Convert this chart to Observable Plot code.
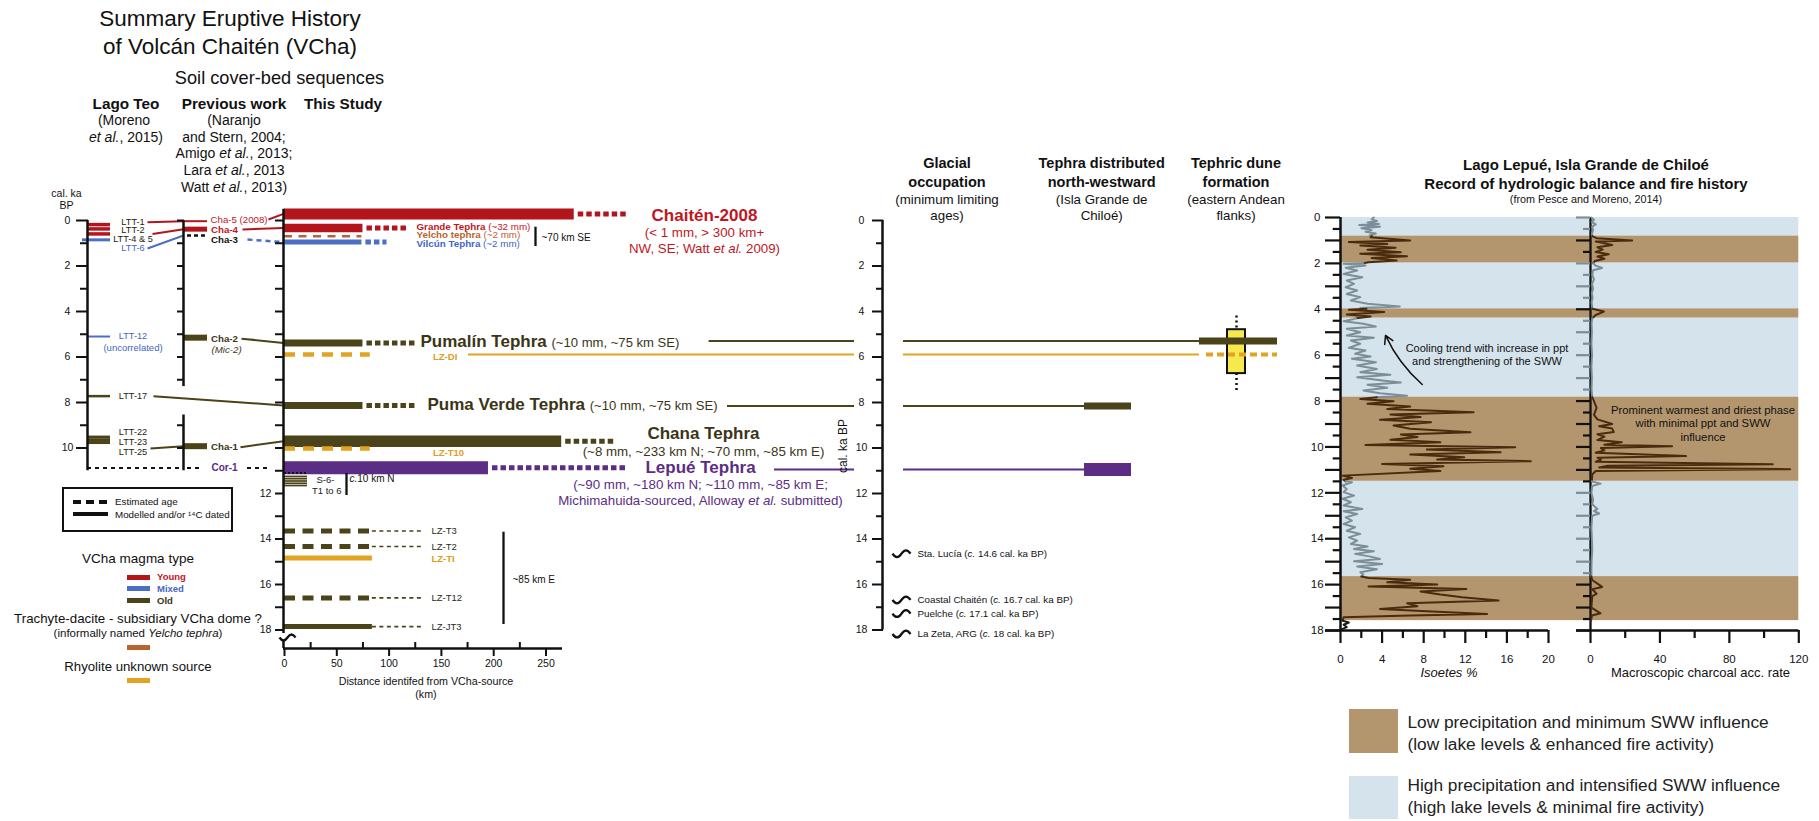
<!DOCTYPE html>
<html lang="en">
<head>
<meta charset="utf-8">
<title>Summary Eruptive History of Volcán Chaitén (VCha)</title>
<script src="https://cdn.jsdelivr.net/npm/d3@7"></script>
<script src="https://cdn.jsdelivr.net/npm/@observablehq/plot@0.6"></script>
<style>
html,body{margin:0;padding:0;background:#fff;}
#wrap{position:relative;width:1819px;height:821px;overflow:hidden;background:#fff;font-family:"Liberation Sans",Arial,Helvetica,sans-serif;color:#111;}
#wrap .t{position:absolute;white-space:nowrap;line-height:1;}
</style>
</head>
<body>
<div id="wrap"></div>
<script>
// ======================= DATA =======================
// Lago Teo (Moreno et al., 2015)
const lagoTeoNames = ["LTT-1","LTT-2","LTT-4 & 5","LTT-6","LTT-12","LTT-17","LTT-22","LTT-23","LTT-25"];
const lagoTeoAges  = [0.18, 0.37, 0.59, 0.85, 5.10, 7.72, 9.52, 9.64, 9.76];
const lagoTeoMagma = ["Young","Young","Young","Mixed","Mixed","Old","Old","Old","Old"];
const lagoTeoNotes = ["","","","","(uncorrelated)","","","",""];

// Previous work
const prevNames   = ["Cha-5 (2008)","Cha-4","Cha-3","Cha-2","Cha-1"];
const prevAges    = [0.03, 0.38, 0.66, 5.15, 9.92];
const prevMagma   = ["Young","Young","Unknown","Old","Old"];
const prevDated   = [true, true, false, true, true];
const prevAliases = ["","","","(Mic-2)",""];
const cor1Name = "Cor-1";
const cor1Age  = 10.88;

// This study
const studyNames   = ["Chaitén-2008","Grande Tephra","Yelcho tephra","Vilcún Tephra","Pumalín Tephra","LZ-DI","Puma Verde Tephra","Chana Tephra","LZ-T10","Lepué Tephra","LZ-T3","LZ-T2","LZ-TI","LZ-T12","LZ-JT3"];
const studyAges    = [-0.29, 0.33, 0.69, 0.95, 5.38, 5.89, 8.13, 9.70, 10.02, 10.87, 13.65, 14.33, 14.84, 16.59, 17.85];
const studyDistKm  = [277, 75, 74, 74, 75, 82, 75, 265, 82, 195, 84, 84, 84, 84, 84];
const studyReachKm = [328, 118, null, 98, 125, null, 126, 316, null, 326, 133, 133, null, 133, 133];
const studyMagma   = ["Young","Young","Trachyte","Mixed","Old","Rhyolite","Old","Old","Rhyolite","Lepue","Old","Old","Rhyolite","Old","Old"];
const studyDated   = [true, true, false, true, true, false, true, true, false, true, false, false, true, false, true];
const studyNotes   = ["(< 1 mm, > 300 km+\nNW, SE; Watt _et al._ 2009)","(~32 mm)","(~2 mm)","(~2 mm)","(~10 mm, ~75 km SE)","","(~10 mm, ~75 km SE)","(~8 mm, ~233 km N; ~70 mm, ~85 km E)","","(~90 mm, ~180 km N; ~110 mm, ~85 km E;\nMichimahuida-sourced, Alloway _et al._ submitted)","","","","",""];
const s6Labels  = ["S-6-","T1 to 6"];
const s6Ages    = [11.25, 11.35, 11.45, 11.55, 11.65];
const s6DistKm  = 22;
const s6TopAge  = 11.1;
const reachNotes = ["~70 km SE","c.10 km N","~85 km E"];

// Correlations between columns
const corrFrom = ["LTT-1","LTT-4 & 5","LTT-6","LTT-17","LTT-25","Cha-5 (2008)","Cha-4","Cha-3","Cha-2","Cha-1"];
const corrTo   = ["Cha-5 (2008)","Cha-4","Cha-3","Puma Verde Tephra","Cha-1","Chaitén-2008","Grande Tephra","Vilcún Tephra","Pumalín Tephra","Chana Tephra"];

// Distal records
const distalNames   = ["Pumalín Tephra","LZ-DI","Puma Verde Tephra","Lepué Tephra"];
const distalAges    = [5.30, 5.89, 8.15, 10.95];
const distalSetting = ["dune","dune","chiloe","chiloe"];
const duneAgeRange   = [4.8, 6.73];
const duneAgeWhisker = [4.2, 7.6];

// Glacial occupation (minimum limiting ages)
const glacialSites = ["Sta. Lucía","Coastal Chaitén","Puelche","La Zeta, ARG"];
const glacialAges  = [14.6, 16.7, 17.1, 18];

// Tick labels
const distanceTicks = [0, 50, 100, 150, 200, 250];
const kaTickLabels  = [0, 2, 4, 6, 8, 10, 12, 14, 16, 18];
const isoetesTicks  = [0, 4, 8, 12, 16, 20];
const charcoalTicks = [0, 40, 80, 120];

// Lago Lepué (Pesce and Moreno, 2014)
const bandStart  = [0, 0.81, 1.99, 3.98, 4.39, 7.83, 11.5, 15.65];
const bandEnd    = [0.81, 1.99, 3.98, 4.39, 7.83, 11.5, 15.65, 17.57];
const bandRegime = ["high","low","high","low","high","low","high","low"];

const isoetesAge = [0,0.08,0.15,0.22,0.28,0.33,0.40,0.47,0.55,0.62,0.70,0.78,0.81,
 0.86,1.0,1.07,1.15,1.22,1.32,1.41,1.51,1.58,1.69,1.77,1.87,1.95,1.99,
 2.02,2.09,2.19,2.31,2.46,2.6,2.75,2.89,3.04,3.18,3.33,3.47,3.62,3.76,3.88,3.94,3.98,
 4.02,4.12,4.23,4.31,4.39,
 4.42,4.52,4.63,4.75,4.85,5.0,5.14,5.24,5.36,5.5,5.68,5.8,5.94,6.06,6.16,6.31,6.45,6.6,6.74,6.85,6.96,7.11,7.19,7.29,7.42,7.54,7.66,7.77,7.83,
 7.91,8.01,8.12,8.24,8.35,8.49,8.59,8.7,8.82,8.92,9.07,9.21,9.36,9.46,9.57,9.69,9.79,9.91,10.01,10.11,10.23,10.33,10.45,10.55,10.62,10.74,10.84,10.95,11.05,11.25,11.35,11.43,11.5,
 11.54,11.68,11.83,11.97,12.12,12.26,12.41,12.55,12.7,12.8,12.92,13.07,13.21,13.36,13.5,13.65,13.79,13.94,14.08,14.23,14.34,14.45,14.55,14.66,14.78,14.88,14.98,15.1,15.21,15.33,15.46,15.56,15.65,
 15.71,15.79,15.9,16.0,16.08,16.19,16.3,16.43,16.55,16.69,16.81,16.94,17.06,17.16,17.28,17.35,17.42,17.57,
 17.65,17.75,17.85,17.95];
const isoetesPct = [3.2,3.0,3.5,2.6,3.7,1.8,3.8,2.0,3.0,2.4,3.4,2.8,3.0,
 2.9,6.7,0.8,4.5,1.9,5.3,2.6,5.8,1.9,6.4,3.0,5.4,2.7,2.2,
 0.3,2.4,0.5,1.6,0.3,2.1,0.6,1.3,0.5,1.6,0.6,1.9,1.0,2.6,5.7,1.9,2.5,
 0.8,4.2,0.6,2.9,1.5,
 1.3,0.3,2.2,3.4,0.6,1.9,0.6,3.2,1.0,1.9,0.8,2.4,1.4,2.9,1.1,3.4,1.6,3.5,1.9,4.8,1.6,4.2,5.8,2.6,4.5,2.2,3.8,6.4,3.5,
 1.9,5.1,2.6,6.7,4.5,12.8,4.8,7.7,3.8,8.7,5.1,6.7,12.5,5.8,7.4,4.8,9.6,2.4,16.8,8.3,15.4,6.7,11.9,9.3,18.3,4.0,9.9,6.7,9.6,0.2,1.1,0.3,0.5,
 1.1,0.2,0.6,0.3,1.3,0.2,1.0,0.3,2.1,0.3,1.6,0.5,1.1,0.3,1.4,0.6,1.9,0.8,1.6,1.0,2.6,1.3,3.2,1.4,2.9,3.8,1.3,4.0,1.6,3.5,1.9,2.2,2.0,
 2.7,6.7,4.5,9.3,2.7,12.1,7.7,9.6,11.7,15.2,6.4,7.4,3.8,8.3,14.1,6.7,0.3,0.2,
 0.8,0.3,0.6,0.1];

const charcoalAge = [0,0.1,0.2,0.3,0.4,0.55,0.7,0.81,0.9,1.0,1.05,1.12,1.2,1.3,1.4,1.5,1.6,1.7,1.8,1.9,1.99,2.1,2.2,2.3,2.5,2.7,2.9,3.1,3.3,3.5,3.7,3.9,3.98,4.1,4.25,4.39,4.6,5.0,5.5,6.0,6.5,7.0,7.5,7.83,8.0,8.3,8.6,8.8,9.0,9.1,9.2,9.35,9.45,9.55,9.7,9.8,9.9,9.97,10.05,10.15,10.25,10.4,10.47,10.55,10.65,10.75,10.82,10.9,10.97,11.05,11.2,11.5,11.6,11.7,12.0,12.3,12.5,12.7,12.8,12.9,13.0,13.5,14.0,14.5,15.0,15.65,15.8,16.1,16.2,16.4,16.5,17.0,17.25,17.35,17.57];
const charcoalRate = [0.5,2.0,0.8,3.0,1.0,1.5,0.8,1.0,3.5,24.0,3.0,8.0,12.5,4.0,7.0,3.0,10.5,4.0,8.0,2.5,1.5,3.0,6.7,1.5,1.0,2.0,0.8,1.5,0.7,1.2,0.6,1.0,1.0,7.7,3.0,1.0,0.6,0.8,0.5,0.9,0.5,0.8,0.6,1.0,2.0,3.5,2.0,4.0,12.5,5.0,12.5,13.4,4.0,8.0,4.0,18.0,8.0,47.0,6.0,8.0,3.0,55.0,4.0,6.0,3.0,105.0,10.0,5.0,115.0,3.0,1.0,0.8,5.8,1.0,0.5,1.5,1.0,4.0,2.0,5.0,1.0,0.5,0.8,1.0,0.6,0.5,1.0,6.7,1.0,3.5,1.0,0.5,5.8,0.8,0.3];

// ======================= STYLE / LAYOUT =======================
const COLOR = {Young:"#b3151d", Mixed:"#4c6ec4", Old:"#4b4319", Trachyte:"#b8642e", Rhyolite:"#e2a322", Lepue:"#5b2d85", Unknown:"#111111"};
const TEXTC = {Young:"#c0171f", Mixed:"#4466c2", Old:"#3b3516", Trachyte:"#b8642e", Rhyolite:"#df9d1a", Lepue:"#5b2d85", Unknown:"#111111"};
const BANDC = {low:"#b4966e", high:"#d5e3ec"};
const CURVEC = {low:"#4a2b0d", high:"#7c8f98", none:"#1a1a1a"};
const FONT = '"Liberation Sans", Arial, Helvetica, sans-serif';
const wrap = document.getElementById("wrap");
const svgNS = "http://www.w3.org/2000/svg";

// wavy symbol (glacial limit / axis break), d3-symbol-type interface
const waveSymbol = {
  draw(context, size) {
    const s = Math.sqrt(size / Math.PI);
    context.moveTo(-2 * s, 0);
    context.quadraticCurveTo(-1 * s, 1.5 * s, 0, 0);
    context.quadraticCurveTo(1 * s, -1.5 * s, 2 * s, 0);
  }
};

function htxt(html, x, y, o = {}) {
  const d = document.createElement("div");
  d.className = "t";
  d.innerHTML = html;
  d.style.left = x + "px"; d.style.top = y + "px";
  d.style.fontSize = (o.size || 13) + "px";
  if (o.bold) d.style.fontWeight = "bold";
  if (o.italic) d.style.fontStyle = "italic";
  if (o.color) d.style.color = o.color;
  const ax = o.anchor === "start" ? "0" : o.anchor === "end" ? "-100%" : "-50%";
  d.style.transform = `translate(${ax},-50%)` + (o.rotate ? ` rotate(${o.rotate}deg)` : "");
  wrap.appendChild(d);
}
function swatch(x, y, w, h, color) {
  const d = document.createElement("div");
  Object.assign(d.style, {position:"absolute", left:x+"px", top:(y-h/2)+"px", width:w+"px", height:h+"px", background:color});
  wrap.appendChild(d);
}
function richify(root) {
  root.querySelectorAll("text").forEach(t => {
    const spans = t.querySelectorAll("tspan");
    const els = spans.length ? Array.from(spans) : [t];
    els.forEach(el => {
      const s = el.textContent;
      if (!/[*_{]/.test(s)) return;
      while (el.firstChild) el.removeChild(el.firstChild);
      s.split(/(\*[^*]*\*|_[^_]*_|\{[^}]*\})/).forEach(p => {
        if (!p) return;
        const ts = document.createElementNS(svgNS, "tspan");
        let txt = p;
        if (p.length > 1 && p[0] === "*" && p[p.length-1] === "*") { ts.setAttribute("font-weight","bold"); txt = p.slice(1,-1); }
        else if (p.length > 1 && p[0] === "_" && p[p.length-1] === "_") { ts.setAttribute("font-style","italic"); txt = p.slice(1,-1); }
        else if (p[0] === "{") { ts.setAttribute("font-weight","normal"); ts.setAttribute("font-size","0.77em"); txt = p.slice(1,-1); }
        ts.textContent = txt;
        el.appendChild(ts);
      });
    });
  });
}
function addPlot(svg, left) {
  svg.style.position = "absolute"; svg.style.left = left + "px"; svg.style.top = "0px";
  richify(svg);
  wrap.appendChild(svg);
}
function regimeAt(ka) {
  for (let i = 0; i < bandStart.length; i++) if (ka >= bandStart[i] && ka <= bandEnd[i]) return bandRegime[i];
  return "none";
}
function colouredRuns(ages, vals) {
  const out = []; let run = 0, prev = null;
  for (let i = 0; i < ages.length - 1; i++) {
    const reg = regimeAt((ages[i] + ages[i+1]) / 2);
    if (reg !== prev) { run++; prev = reg; out.push({ka: ages[i], v: vals[i], run, color: CURVEC[reg]}); }
    out.push({ka: ages[i+1], v: vals[i+1], run, color: CURVEC[reg]});
  }
  return out;
}

// ---------- Panel A geometry (pixels) ----------
const A = {width: 1300, height: 821, x0: 284, x250: 545.5, yTop: 220, yBottom: 648};
const KA_PX = 22.75;
const A_KAMAX = (A.yBottom - A.yTop) / KA_PX;
const kmOf = px => (px - A.x0) * 250 / (A.x250 - A.x0);
const kaOf = py => (py - A.yTop) / KA_PX;

// rows
const lago  = lagoTeoNames.map((name,i) => ({name, ka: lagoTeoAges[i], magma: lagoTeoMagma[i], note: lagoTeoNotes[i]}));
const prev  = prevNames.map((name,i) => ({name, ka: prevAges[i], magma: prevMagma[i], dated: prevDated[i], alias: prevAliases[i]}));
const study = studyNames.map((name,i) => ({name, ka: studyAges[i], dist: studyDistKm[i], reach: studyReachKm[i], magma: studyMagma[i], dated: studyDated[i], note: studyNotes[i]}));
const byName = new Map([...lago, ...prev, ...study].map(d => [d.name, d]));

const lagoStyle = {"LTT-1":{w:3.5,dy:-2.4,end:147}, "LTT-2":{w:3.5,dy:1.6}, "LTT-4 & 5":{w:3.5,dy:5.6,end:152,linkDy:0}, "LTT-6":{w:3,dy:8.7,x1:82,end:147},
  "LTT-12":{w:2,dy:0}, "LTT-17":{w:2.5,dy:0,end:153}, "LTT-22":{w:3,dy:-5.3}, "LTT-23":{w:3,dy:2.4}, "LTT-25":{w:3,dy:10,end:150,linkDy:6}};
const prevStyle = {"Cha-5 (2008)":{w:2,dy:-1.7,bold:false,end:268}, "Cha-4":{w:5,dy:0.3,bold:true,end:242}, "Cha-3":{w:2.5,dy:4,bold:true,end:247},
  "Cha-2":{w:6,dy:1,bold:true,end:241}, "Cha-1":{w:6,dy:1,bold:true,end:240}};
const barW = {"Chaitén-2008":11, "Grande Tephra":8.5, "Yelcho tephra":2.5, "Vilcún Tephra":5, "Pumalín Tephra":7, "LZ-DI":4.5, "Puma Verde Tephra":7,
  "Chana Tephra":11.5, "LZ-T10":4.5, "Lepué Tephra":13, "LZ-T3":5, "LZ-T2":5, "LZ-TI":5, "LZ-T12":5, "LZ-JT3":5};
const dashOf = {"Yelcho tephra":"8,6.5", "LZ-DI":"11,8", "LZ-T10":"11,8", "LZ-T3":"11,7.5", "LZ-T2":"11,7.5", "LZ-T12":"11,7.5"};
const studyLabel = {
  "Chaitén-2008":{kind:"big",px:704,py:215}, "Chana Tephra":{kind:"big",px:703,py:433.3}, "Lepué Tephra":{kind:"big",px:700,py:466.7},
  "Pumalín Tephra":{kind:"inline",px:420,py:341}, "Puma Verde Tephra":{kind:"inline",px:427,py:404.5},
  "Grande Tephra":{kind:"small",px:416,py:226}, "Yelcho tephra":{kind:"small",px:416,py:234.5}, "Vilcún Tephra":{kind:"small",px:416,py:243.3},
  "LZ-DI":{kind:"lz",px:432.5,py:356}, "LZ-T10":{kind:"lz",px:432.5,py:452}, "LZ-T3":{kind:"lz",px:431,py:530.7}, "LZ-T2":{kind:"lz",px:431,py:546},
  "LZ-TI":{kind:"lz",px:431,py:558}, "LZ-T12":{kind:"lz",px:431,py:597.3}, "LZ-JT3":{kind:"lz",px:431,py:626}};
const glacialDy = {"Sta. Lucía":1, "Coastal Chaitén":-0.5, "Puelche":4, "La Zeta, ARG":4};

const mA = [];

// ---- distal continuation lines (behind everything) ----
const distal = distalNames.map((name,i) => ({name, ka: distalAges[i], setting: distalSetting[i], magma: byName.get(name).magma, dated: byName.get(name).dated}));
const distalStart = {"Pumalín Tephra":708.6, "LZ-DI":468, "Puma Verde Tephra":727, "Lepué Tephra":774};
const AXIS_GAP = [854, 903];
const COLUMN_SPAN = {dune:[1199,1277], chiloe:[1084,1131]};
const distalBarW = {"Pumalín Tephra":7, "LZ-DI":4, "Puma Verde Tephra":7, "Lepué Tephra":13};
const distalSegs = distal.flatMap(d => [
  {...d, a: kmOf(distalStart[d.name]), b: kmOf(AXIS_GAP[0])},
  {...d, a: kmOf(AXIS_GAP[1]), b: kmOf(COLUMN_SPAN[d.setting][0])}
]);
mA.push(Plot.ruleY(distalSegs, {y:"ka", x1:"a", x2:"b", stroke: d => COLOR[d.magma], strokeWidth: 2}));
mA.push(Plot.rect([duneAgeRange], {x1: kmOf(1227), x2: kmOf(1245), y1: d => d[0], y2: d => d[1], fill:"#f6e94e", stroke:"#111", strokeWidth: 2}));
mA.push(Plot.ruleX([[duneAgeWhisker[0], duneAgeRange[0]], [duneAgeRange[1], duneAgeWhisker[1]]], {x: kmOf(1236), y1: d => d[0], y2: d => d[1], stroke:"#111", strokeWidth: 2.5, strokeDasharray:"2,3"}));
mA.push(Plot.ruleY(distal.filter(d => d.dated), {y:"ka", x1: d => kmOf(COLUMN_SPAN[d.setting][0]), x2: d => kmOf(COLUMN_SPAN[d.setting][1]), stroke: d => COLOR[d.magma], strokeWidth: d => distalBarW[d.name]}));
mA.push(Plot.ruleY(distal.filter(d => !d.dated), {y:"ka", x1: d => kmOf(COLUMN_SPAN[d.setting][0] + 7), x2: d => kmOf(COLUMN_SPAN[d.setting][1]), stroke: d => COLOR[d.magma], strokeWidth: d => distalBarW[d.name], strokeDasharray:"7,4"}));

// ---- Lago Teo column ----
mA.push(Plot.ruleY(lago, {y:"ka", x1: d => kmOf(lagoStyle[d.name].x1 ?? 88), x2: kmOf(110), stroke: d => COLOR[d.magma], strokeWidth: d => lagoStyle[d.name].w}));
mA.push(Plot.text(lago, {x: kmOf(132.5), y: d => d.ka + lagoStyle[d.name].dy / KA_PX, text: "name", fontSize: 9.2, fill: d => d.magma === "Mixed" ? TEXTC.Mixed : "#1d1b10"}));
mA.push(Plot.text(lago.filter(d => d.note), {x: kmOf(132.5), y: d => d.ka + 11.7 / KA_PX, text: "note", fontSize: 9.5, fill: TEXTC.Mixed}));

// ---- Previous work column ----
mA.push(Plot.ruleY(prev.filter(d => d.dated), {y:"ka", x1: kmOf(183), x2: kmOf(207), stroke: d => COLOR[d.magma], strokeWidth: d => prevStyle[d.name].w}));
mA.push(Plot.ruleY(prev.filter(d => !d.dated), {y:"ka", x1: kmOf(187), x2: kmOf(207), stroke: d => COLOR[d.magma], strokeWidth: d => prevStyle[d.name].w, strokeDasharray:"4,3"}));
mA.push(Plot.text(prev.filter(d => !prevStyle[d.name].bold), {x: kmOf(210), y: d => d.ka + prevStyle[d.name].dy / KA_PX, text:"name", textAnchor:"start", fontSize: 9.7, fill: d => TEXTC[d.magma]}));
mA.push(Plot.text(prev.filter(d => prevStyle[d.name].bold), {x: kmOf(210.5), y: d => d.ka + prevStyle[d.name].dy / KA_PX, text:"name", textAnchor:"start", fontSize: 9.7, fontWeight:"bold", fill: d => TEXTC[d.magma]}));
mA.push(Plot.text(prev.filter(d => d.alias), {x: kmOf(211), y: d => d.ka + 12.5 / KA_PX, text:"alias", textAnchor:"start", fontSize: 9.7, fontStyle:"italic", fill: d => TEXTC[d.magma]}));

// Cor-1 (estimated age)
mA.push(Plot.ruleY([[87,180],[187,203],[247,268]], {y: cor1Age, x1: d => kmOf(d[0]), x2: d => kmOf(d[1]), stroke:"#111", strokeWidth: 2, strokeDasharray:"4,4"}));
mA.push(Plot.text([cor1Name], {x: kmOf(211), y: cor1Age, text: d => d, textAnchor:"start", fontSize: 10, fontWeight:"bold", fill: TEXTC.Lepue}));

// ---- correlation links ----
const links = corrFrom.map((f,i) => {
  const a = byName.get(f), b = byName.get(corrTo[i]);
  const fs = lagoStyle[f] || prevStyle[f];
  const toPx = prevNames.includes(corrTo[i]) ? 183 : 283;
  const dy = fs.linkDy ?? fs.dy;
  const magma = a.magma === "Unknown" ? b.magma : a.magma;
  return {x1: kmOf(fs.end), y1: a.ka + dy / KA_PX, x2: kmOf(toPx), y2: b.ka, color: COLOR[magma], dashed: a.dated === false};
});
mA.push(Plot.link(links.filter(d => !d.dashed), {x1:"x1", y1:"y1", x2:"x2", y2:"y2", stroke:"color", strokeWidth: 2}));
mA.push(Plot.link(links.filter(d => d.dashed), {x1:"x1", y1:"y1", x2:"x2", y2:"y2", stroke:"color", strokeWidth: 2.5, strokeDasharray:"5,4"}));

// ---- This study bars ----
mA.push(Plot.ruleY(study.filter(d => d.dated), {y:"ka", x1: 0, x2:"dist", stroke: d => COLOR[d.magma], strokeWidth: d => barW[d.name]}));
[...new Set(Object.values(dashOf))].forEach(dash => {
  mA.push(Plot.ruleY(study.filter(d => !d.dated && dashOf[d.name] === dash), {y:"ka", x1: 0, x2:"dist", stroke: d => COLOR[d.magma], strokeWidth: d => barW[d.name], strokeDasharray: dash}));
});
const ext = study.filter(d => d.reach != null);
mA.push(Plot.ruleY(ext.filter(d => !d.name.startsWith("LZ")), {y:"ka", x1: d => d.dist + 4 * 250 / (A.x250 - A.x0), x2:"reach", stroke: d => COLOR[d.magma], strokeWidth: 5, strokeDasharray:"5.5,3"}));
mA.push(Plot.ruleY(ext.filter(d => d.name.startsWith("LZ")), {y:"ka", x1:"dist", x2:"reach", stroke: COLOR.Old, strokeWidth: 1.6, strokeDasharray:"4,3.5"}));

// S-6-T1 to 6 (c. 10 km N)
mA.push(Plot.ruleY([s6TopAge], {y: d => d, x1: 0, x2: s6DistKm - 1, stroke:"#111", strokeWidth: 2, strokeDasharray:"2,2"}));
mA.push(Plot.ruleY(s6Ages, {y: d => d, x1: 0, x2: s6DistKm, stroke: COLOR.Old, strokeWidth: 1.7}));
mA.push(Plot.text([s6Labels[0]], {x: kmOf(316), y: kaOf(479.3), text: d => d, textAnchor:"start", fontSize: 9.5, fill:"#222"}));
mA.push(Plot.text([s6Labels[1]], {x: kmOf(311.5), y: kaOf(490.5), text: d => d, textAnchor:"start", fontSize: 9.5, fill:"#222"}));

// distance annotations
mA.push(Plot.ruleX([[kmOf(535), kaOf(226.7), kaOf(246)], [kmOf(346), kaOf(473), kaOf(495)], [kmOf(503), kaOf(531.7), kaOf(624)]],
  {x: d => d[0], y1: d => d[1], y2: d => d[2], stroke:"#111", strokeWidth: 2.3}));
mA.push(Plot.text([reachNotes[0]], {x: kmOf(541), y: kaOf(237.5), text: d => d, textAnchor:"start", fontSize: 10, fill:"#111"}));
mA.push(Plot.text(["_c._" + reachNotes[1].slice(2)], {x: kmOf(349), y: kaOf(478.5), text: d => d, textAnchor:"start", fontSize: 10, fill:"#111"}));
mA.push(Plot.text([reachNotes[2]], {x: kmOf(512), y: kaOf(579.3), text: d => d, textAnchor:"start", fontSize: 10, fill:"#111"}));

// This-study labels
study.forEach(d => {
  const L = studyLabel[d.name]; if (!L) return;
  const x = kmOf(L.px), y = kaOf(L.py);
  if (L.kind === "big") {
    mA.push(Plot.text([d.name], {x, y, text: t => t, fontSize: 17, fontWeight:"bold", fill: TEXTC[d.magma]}));
    d.note.split("\n").forEach((line,k) => mA.push(Plot.text([line], {x, y: kaOf(L.py + 17.5 + 16 * k), text: t => t, fontSize: 13.3, fill: TEXTC[d.magma]})));
  } else if (L.kind === "inline") {
    mA.push(Plot.text([`*${d.name}* {${d.note}}`], {x, y, text: t => t, textAnchor:"start", fontSize: 17, fill: TEXTC.Old}));
  } else if (L.kind === "small") {
    mA.push(Plot.text([`*${d.name}* ${d.note}`], {x, y, text: t => t, textAnchor:"start", fontSize: 9.8, fill: TEXTC[d.magma]}));
  } else {
    const rh = d.magma === "Rhyolite";
    mA.push(Plot.text([d.name], {x, y, text: t => t, textAnchor:"start", fontSize: 9.5, fontWeight: rh ? "bold" : "normal", fill: rh ? TEXTC.Rhyolite : "#2a2a22"}));
  }
});

// ---- axes of panel A ----
// Lago Teo axis
mA.push(Plot.ruleX([[0, 11]], {x: kmOf(87), y1: d => d[0], y2: d => d[1], stroke:"#111", strokeWidth: 2.5}));
mA.push(Plot.ruleY(d3.range(0, 11), {y: d => d, x1: d => kmOf(d % 2 === 0 ? 76 : 80), x2: kmOf(88), stroke:"#111", strokeWidth: 2}));
mA.push(Plot.text(kaTickLabels.filter(d => d <= 10), {x: kmOf(67), y: d => d, text: d => String(d), fontSize: 10.5, fill:"#111"}));
// Previous work axis
mA.push(Plot.ruleX([[0, 7.3], [8.55, 11]], {x: kmOf(183), y1: d => d[0], y2: d => d[1], stroke:"#111", strokeWidth: 2.5}));
mA.push(Plot.ruleY([0,1,2,3,4,5,6,7,9,10], {y: d => d, x1: kmOf(177), x2: kmOf(184), stroke:"#111", strokeWidth: 2}));
// This study axis (with break)
mA.push(Plot.ruleX([[-0.5, 18.15], [18.5, A_KAMAX]], {x: kmOf(283), y1: d => d[0], y2: d => d[1], stroke:"#111", strokeWidth: 2.5}));
mA.push(Plot.ruleY(d3.range(0, 19), {y: d => d, x1: kmOf(275), x2: kmOf(284), stroke:"#111", strokeWidth: 2}));
mA.push(Plot.text(kaTickLabels.filter(d => d >= 12), {x: kmOf(265), y: d => d, text: d => String(d), fontSize: 10.5, fill:"#111"}));
mA.push(Plot.dot([18.33], {x: kmOf(287), y: d => d, symbol: waveSymbol, r: 4, fill: "none", stroke: "#111", strokeWidth: 2.3}));
// distance axis
mA.push(Plot.ruleY([A_KAMAX], {y: d => d, x1: kmOf(283), x2: kmOf(562), stroke:"#111", strokeWidth: 2.5}));
mA.push(Plot.ruleX([25, 75, 125, 175, 225], {x: d => d, y1: A_KAMAX, y2: A_KAMAX - 6 / KA_PX, stroke:"#111", strokeWidth: 2}));
mA.push(Plot.axisX({ticks: distanceTicks, tickSize: 8, tickPadding: 3, label: null, strokeWidth: 2, fontSize: 10.5}));
// Glacial axis
mA.push(Plot.ruleX([[0, 18]], {x: kmOf(882), y1: d => d[0], y2: d => d[1], stroke:"#111", strokeWidth: 2.5}));
mA.push(Plot.ruleY(d3.range(0, 19), {y: d => d, x1: d => kmOf(d % 2 === 0 ? 872 : 876), x2: kmOf(883), stroke:"#111", strokeWidth: 2}));
mA.push(Plot.text(kaTickLabels, {x: kmOf(861), y: d => d, text: d => String(d), fontSize: 10.5, fill:"#111"}));
// Glacial limiting ages
const glacial = glacialSites.map((site,i) => ({site, ka: glacialAges[i]}));
mA.push(Plot.dot(glacial, {x: kmOf(901), y: d => d.ka + glacialDy[d.site] / KA_PX, symbol: waveSymbol, r: 4.5, fill: "none", stroke: "#111", strokeWidth: 2.3}));
mA.push(Plot.text(glacial, {x: kmOf(917), y: d => d.ka + glacialDy[d.site] / KA_PX, text: d => `${d.site} (_c._ ${d.ka} cal. ka BP)`, textAnchor:"start", fontSize: 9.8, fill:"#111"}));

const plotA = Plot.plot({
  width: A.width, height: A.height,
  marginLeft: A.x0, marginRight: A.width - A.x250, marginTop: A.yTop, marginBottom: A.height - A.yBottom,
  x: {domain: [0, 250], range: [A.x0, A.x250], axis: null},
  y: {domain: [0, A_KAMAX], range: [A.yTop, A.yBottom], axis: null},
  r: {type: "identity"},
  style: {fontFamily: FONT, fontSize: "10.5px", background: "transparent", color: "#111", overflow: "visible"},
  marks: mA
});
addPlot(plotA, 0);

// ---------- Panel B : Isoetes ----------
const bands = bandStart.map((s,i) => ({start: s, end: bandEnd[i], regime: bandRegime[i]}));
const B = {left: 1300, width: 290, x0: 1340, x20: 1548, yTop: 217, yBottom: 630};
const B_PX = (B.x20 - B.x0) / 20, B_KA = (B.yBottom - B.yTop) / 18;
const isoRuns = colouredRuns(isoetesAge, isoetesPct);
const plotB = Plot.plot({
  width: B.width, height: 821,
  marginLeft: B.x0 - B.left, marginRight: B.left + B.width - B.x20, marginTop: B.yTop, marginBottom: 821 - B.yBottom,
  x: {domain: [0, 20], range: [B.x0 - B.left, B.x20 - B.left], axis: null},
  y: {domain: [0, 18], range: [B.yTop, B.yBottom], axis: null},
  style: {fontFamily: FONT, fontSize: "11px", background: "transparent", color: "#111", overflow: "visible"},
  marks: [
    Plot.rect(bands, {x1: 0, x2: (1590 - B.x0) / B_PX, y1: "start", y2: "end", fill: d => BANDC[d.regime]}),
    Plot.line(isoRuns, {x: "v", y: "ka", z: "run", stroke: "color", strokeWidth: 2}),
    Plot.ruleX([0], {y1: 0, y2: 18, stroke: "#111", strokeWidth: 2.5}),
    Plot.ruleY(d3.range(0, 18.01, 0.5), {y: d => d, x1: d => Number.isInteger(d) ? -15 / B_PX : -7.3 / B_PX, x2: 0, stroke: "#111", strokeWidth: 2.2}),
    Plot.text(kaTickLabels, {x: -23.3 / B_PX, y: d => d, text: d => String(d), fontSize: 11.5, fill: "#111"}),
    Plot.ruleY([18], {x1: -15 / B_PX, x2: 20, stroke: "#111", strokeWidth: 2.5}),
    Plot.ruleX(d3.range(0, 21, 2), {x: d => d, y1: 18, y2: d => 18 + (isoetesTicks.includes(d) ? 13 : 8) / B_KA, stroke: "#111", strokeWidth: 2.2}),
    Plot.text(isoetesTicks, {x: d => d, y: 18 + 29 / B_KA, text: d => String(d), fontSize: 11.5, fill: "#111"}),
    Plot.arrow([0], {x1: 7.86, y1: 7.28, x2: 4.33, y2: 5.14, bend: 12, stroke: "#111", strokeWidth: 1.5, headLength: 9})
  ]
});
addPlot(plotB, B.left);

// ---------- Panel C : Charcoal ----------
const Cc = {left: 1560, width: 259, x0: 1590, x120: 1798.3};
const C_PX = (Cc.x120 - Cc.x0) / 120;
const charRuns = colouredRuns(charcoalAge, charcoalRate);
const plotC = Plot.plot({
  width: Cc.width, height: 821,
  marginLeft: Cc.x0 - Cc.left, marginRight: Cc.left + Cc.width - Cc.x120, marginTop: B.yTop, marginBottom: 821 - B.yBottom,
  x: {domain: [0, 120], range: [Cc.x0 - Cc.left, Cc.x120 - Cc.left], axis: null},
  y: {domain: [0, 18], range: [B.yTop, B.yBottom], axis: null},
  style: {fontFamily: FONT, fontSize: "11px", background: "transparent", color: "#111", overflow: "visible"},
  marks: [
    Plot.rect(bands, {x1: 0, x2: 120, y1: "start", y2: "end", fill: d => BANDC[d.regime]}),
    Plot.ruleX([0], {y1: 0, y2: 18, stroke: "#111", strokeWidth: 2.3}),
    Plot.line(charRuns, {x: "v", y: "ka", z: "run", stroke: "color", strokeWidth: 2}),
    Plot.ruleY(d3.range(0, 18.01, 0.5), {y: d => d, x1: d => Number.isInteger(d) ? -14 / C_PX : -7 / C_PX, x2: 0,
      stroke: d => regimeAt(d) === "high" ? CURVEC.high : "#111", strokeWidth: 2.2}),
    Plot.ruleY([18], {x1: -14 / C_PX, x2: 120, stroke: "#111", strokeWidth: 2.5}),
    Plot.ruleX(d3.range(0, 121, 20), {x: d => d, y1: 18, y2: d => 18 + (charcoalTicks.includes(d) ? 13 : 8) / B_KA, stroke: "#111", strokeWidth: 2.2}),
    Plot.text(charcoalTicks, {x: d => d, y: 18 + 29 / B_KA, text: d => String(d), fontSize: 11.5, fill: "#111"})
  ]
});
addPlot(plotC, Cc.left);

// ======================= HTML TEXT (titles, headers, legends) =======================
htxt("Summary Eruptive History", 230, 18.5, {size: 22.5});
htxt("of Volcán Chaitén (VCha)", 230, 46.5, {size: 22.5});
htxt("Soil cover-bed sequences", 279.5, 77.5, {size: 18.2});
htxt("Lago Teo", 126, 103.5, {size: 15.3, bold: true});
htxt("(Moreno", 124, 120, {size: 14});
htxt("<i>et al.</i>, 2015)", 126, 136.5, {size: 14});
htxt("Previous work", 234, 103.5, {size: 15.3, bold: true});
["(Naranjo", "and Stern, 2004;", "Amigo <i>et al.</i>, 2013;", "Lara <i>et al.</i>, 2013", "Watt <i>et al.</i>, 2013)"].forEach((s,i) => htxt(s, 234, 120 + i * 16.7, {size: 14}));
htxt("This Study", 343, 103.5, {size: 15.3, bold: true});
htxt("cal. ka", 66.5, 193, {size: 10.5});
htxt("BP", 66.5, 204.5, {size: 10.5});
htxt("Distance identifed from VCha-source", 426, 681, {size: 10.7});
htxt("(km)", 426, 693.5, {size: 10.7});

// dating legend box
(function () {
  const box = document.createElement("div");
  Object.assign(box.style, {position:"absolute", left:"62px", top:"487px", width:"171px", height:"45px", border:"2px solid #111", boxSizing:"border-box"});
  wrap.appendChild(box);
  const s = d3.create("svg").attr("width", 50).attr("height", 30).style("position","absolute").style("left","70px").style("top","495px");
  s.append("line").attr("x1",3).attr("x2",38).attr("y1",7).attr("y2",7).attr("stroke","#111").attr("stroke-width",4).attr("stroke-dasharray","8,5");
  s.append("line").attr("x1",3).attr("x2",38).attr("y1",19).attr("y2",19).attr("stroke","#111").attr("stroke-width",4);
  wrap.appendChild(s.node());
  htxt("Estimated age", 115, 502, {size: 9.8, anchor: "start"});
  htxt("Modelled and/or ¹⁴C dated", 115, 514.5, {size: 9.8, anchor: "start"});
})();

// magma legend
htxt("VCha magma type", 138, 559, {size: 13.5});
swatch(127, 577.3, 23, 5, COLOR.Young);  htxt("Young", 157, 577, {size: 9.5, bold: true, color: TEXTC.Young, anchor: "start"});
swatch(127, 588.7, 23, 5, COLOR.Mixed);  htxt("Mixed", 157, 588.7, {size: 9.5, bold: true, color: TEXTC.Mixed, anchor: "start"});
swatch(127, 600, 23, 5, COLOR.Old);      htxt("Old", 157, 600.5, {size: 9.5, bold: true, color: TEXTC.Old, anchor: "start"});
htxt("Trachyte-dacite - subsidiary VCha dome ?", 138, 619.3, {size: 13.3});
htxt("(informally named <i>Yelcho tephra</i>)", 138, 634.3, {size: 11.5});
swatch(127, 647.3, 23, 5, COLOR.Trachyte);
htxt("Rhyolite unknown source", 138, 666.7, {size: 13.2});
swatch(127, 680.3, 23, 5, COLOR.Rhyolite);

// middle headers
[["<b>Glacial</b>", 947], ["<b>Tephra distributed</b>", 1101.7], ["<b>Tephric dune</b>", 1236]].forEach(([s,x]) => htxt(s, x, 163.3, {size: 14.5}));
[["<b>occupation</b>", 947], ["<b>north-westward</b>", 1101.7], ["<b>formation</b>", 1236]].forEach(([s,x]) => htxt(s, x, 182.3, {size: 14.5}));
[["(minimum limiting", 947], ["(Isla Grande de", 1101.7], ["(eastern Andean", 1236]].forEach(([s,x]) => htxt(s, x, 200, {size: 13.3}));
[["ages)", 947], ["Chiloé)", 1101.7], ["flanks)", 1236]].forEach(([s,x]) => htxt(s, x, 215.7, {size: 13.3}));
htxt("cal. ka BP", 843, 446, {size: 12, rotate: -90});

// right panel texts
htxt("Lago Lepué, Isla Grande de Chiloé", 1586, 164, {size: 15, bold: true});
htxt("Record of hydrologic balance and fire history", 1586, 182.7, {size: 15, bold: true});
htxt("(from Pesce and Moreno, 2014)", 1586, 198.5, {size: 10.8});
htxt("Isoetes %", 1449, 672.3, {size: 13, italic: true});
htxt("Macroscopic charcoal acc. rate", 1700.5, 672.3, {size: 13});
htxt("Cooling trend with increase in ppt", 1487, 348.3, {size: 11});
htxt("and strengthening of the SWW", 1487, 360.7, {size: 11});
htxt("Prominent warmest and driest phase", 1703, 411, {size: 11.3});
htxt("with minimal ppt and SWW", 1703, 424.3, {size: 11.3});
htxt("influence", 1703, 437.7, {size: 11.3});

// regime legend
swatch(1349, 731.3, 49, 44, BANDC.low);
htxt("Low precipitation and minimum SWW influence", 1407.5, 723.3, {size: 17.3, anchor: "start", color: "#222"});
htxt("(low lake levels &amp; enhanced fire activity)", 1407.5, 745, {size: 17.3, anchor: "start", color: "#222"});
swatch(1349, 797.5, 49, 43.6, BANDC.high);
htxt("High precipitation and intensified SWW influence", 1407.5, 786, {size: 17.3, anchor: "start", color: "#222"});
htxt("(high lake levels &amp; minimal fire activity)", 1407.5, 808.3, {size: 17.3, anchor: "start", color: "#222"});
</script>
</body>
</html>
